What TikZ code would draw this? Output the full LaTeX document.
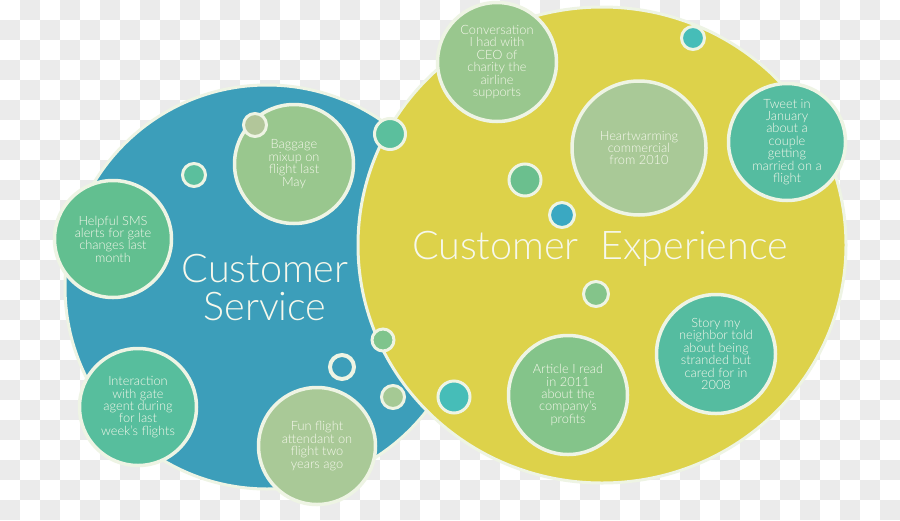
\documentclass[tikz,border=0pt]{standalone}
\usepackage{fontspec}
\setmainfont{Lato}[UprightFont={* Light}]
\usetikzlibrary{shapes.geometric}
\definecolor{checkc}{HTML}{EBEBEB}
\definecolor{bluebig}{HTML}{3C9EBA}
\definecolor{yelbig}{HTML}{DDD24A}
\definecolor{rimc}{HTML}{EEF4E4}
\definecolor{txtc}{HTML}{F6F8EC}
\definecolor{gA}{HTML}{99C78E}
\definecolor{gB}{HTML}{A9C997}
\definecolor{tA}{HTML}{55BCA0}
\definecolor{gC}{HTML}{62BF90}
\definecolor{tB}{HTML}{57BE9D}
\definecolor{gD}{HTML}{84C48A}
\definecolor{gE}{HTML}{B2C69A}
\definecolor{tC}{HTML}{5BBF9D}
\definecolor{tD}{HTML}{46BDB8}
\definecolor{gF}{HTML}{6BBF8E}
\definecolor{bS}{HTML}{3AA8C2}
\definecolor{gG}{HTML}{7FC48C}
\definecolor{gH}{HTML}{A5C994}
\begin{document}
\begin{tikzpicture}[x=1pt,y=-1pt,
  bub/.style={circle, draw=rimc, line width=3.5pt, inner sep=0pt, text=txtc, align=center,
    font=\fontsize{12.8}{12.4}\selectfont},
  dotc/.style={circle, draw=rimc, line width=3pt, inner sep=0pt},
  big/.style={draw=rimc, line width=3pt, inner sep=0pt},
  title/.style={text=txtc, align=center, inner sep=0pt, font=\fontsize{39.5}{38}\selectfont}]
\useasboundingbox (0,0) rectangle (900,520);
\fill[white] (0,0) rectangle (900,520);
\foreach \i in {0,...,44}{
  \foreach \j in {0,...,25}{
    \pgfmathtruncatemacro\k{mod(\i+\j,2)}
    \ifnum\k=1 \fill[checkc] (\i*20,\j*20) rectangle ++(20,20); \fi
  }
}
% big circles
\node[big, circle, fill=bluebig, minimum size=404pt] (cs) at (267,287) {};
\node[title] (cst) at (265,288) {Customer\\[0pt]Service};
\node[big, ellipse, fill=yelbig, minimum width=488pt, minimum height=476pt] (cx) at (602,245) {};
\node[title] (cxt) at (600,249) {Customer\ \ Experience};
% blue area bubbles
\node[bub, fill=gA, minimum size=119pt] (bag) at (294,164) {Baggage\\mixup on\\flight last\\May};
\node[dotc, fill=gE, minimum size=23pt] (dA) at (255,125) {};
\node[dotc, fill=tC, minimum size=23pt] (dB) at (194,175) {};
\node[bub, fill=gC, minimum size=117pt] (sms) at (113,239) {Helpful SMS\\alerts for gate\\changes last\\month};
\node[bub, fill=tB, minimum size=117pt] (inter) at (138,407) {Interaction\\with gate\\agent during\\for last\\week’s flights};
\node[circle, draw=rimc, line width=4pt, inner sep=0pt, minimum size=24pt] (dD) at (342,367) {};
\node[bub, fill=gB, minimum size=117pt] (fun) at (317,446) {Fun flight\\attendant on\\flight two\\years ago};
% yellow area bubbles
\node[bub, fill=gA, minimum size=119pt] (conv) at (497,62) {Conversation\\I had with\\CEO of\\charity the\\airline\\supports};
\node[dotc, fill=tD, minimum size=23pt] (dK) at (693,38) {};
\node[bub, fill=gB, minimum size=134pt] (heart) at (639,148) {Heartwarming\\commercial\\from 2010};
\node[bub, fill=tA, minimum size=117pt] (tweet) at (787,142) {Tweet in\\January\\about a\\couple\\getting\\married on a\\flight};
\node[dotc, fill=gF, minimum size=32pt] (dH) at (525,180) {};
\node[dotc, fill=bS, minimum size=25pt] (dI) at (562,215) {};
\node[dotc, fill=gD, minimum size=25pt] (dJ) at (596,294) {};
\node[bub, fill=tA, minimum size=119pt] (story) at (716,354) {Story my\\neighbor told\\about being\\stranded but\\cared for in\\2008};
\node[bub, fill=gD, minimum size=119pt] (art) at (568,395) {Article I read\\in 2011\\about the\\company’s\\profits};
\node[dotc, fill=tD, minimum size=32pt] (dG) at (454,397) {};
% boundary dots
\node[dotc, fill=tC, minimum size=31pt] (dC) at (390,134) {};
\node[dotc, fill=gG, minimum size=22pt] (dE) at (383,340) {};
\node[dotc, fill=gH, minimum size=23pt] (dF) at (393,397) {};
\end{tikzpicture}
\end{document}
